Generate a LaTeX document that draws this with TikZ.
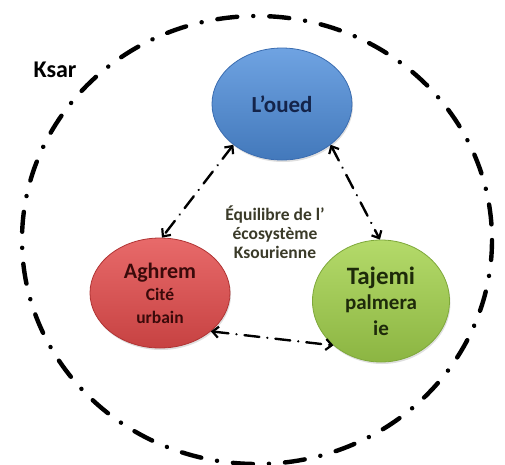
\documentclass[tikz,border=0pt]{standalone}
\usepackage{fontspec}
\setmainfont{Carlito}
\usetikzlibrary{shapes.geometric,arrows.meta,shadows}
\definecolor{bluefill}{HTML}{4A86D0}
\definecolor{bluelight}{HTML}{6FA3E2}
\definecolor{blueedge}{HTML}{3A6CB0}
\definecolor{redfill}{HTML}{D84848}
\definecolor{redlight}{HTML}{E86A6A}
\definecolor{rededge}{HTML}{B03434}
\definecolor{greenfill}{HTML}{98C548}
\definecolor{greenlight}{HTML}{B4DA6A}
\definecolor{greenedge}{HTML}{7EA83A}
\definecolor{bluetext}{HTML}{14244A}
\definecolor{redtext}{HTML}{3A0A0A}
\definecolor{greentext}{HTML}{1E2A0A}
\definecolor{midtext}{HTML}{3A3A28}
\tikzset{
  bubble/.style={ellipse, inner sep=0pt, align=center,
    drop shadow={shadow xshift=1pt, shadow yshift=-2pt, opacity=0.25}},
  link/.style={draw=black, line width=2.4pt,
    dash pattern=on 15pt off 8pt on 0.1pt off 8pt, line cap=round,
    {Straight Barb[length=6pt,width=11pt,line width=2.2pt]}-{Straight Barb[length=6pt,width=11pt,line width=2.2pt]}},
  border/.style={draw=black, line width=4.4pt,
    dash pattern=on 20pt off 16pt on 0.1pt off 16pt, line cap=round}
}
\begin{document}
\begin{tikzpicture}[x=1pt,y=-1pt]
\useasboundingbox (0,0) rectangle (505,464);
\draw[border] (257,240) ellipse [x radius=235, y radius=224];
\node[font=\bfseries\fontsize{24}{26}\selectfont, text=black] (ksar) at (55,70) {Ksar};
\node[bubble, minimum width=140pt, minimum height=112pt,
  top color=bluelight, bottom color=bluefill!90!black, draw=blueedge, line width=0.8pt,
  text=bluetext, font=\bfseries\fontsize{23}{26}\selectfont] (loued) at (282,104) {L’oued};
\node[bubble, minimum width=140pt, minimum height=110pt,
  top color=redlight, bottom color=redfill!92!black, draw=rededge, line width=0.8pt,
  text=redtext, font=\bfseries\fontsize{17.5}{22.5}\selectfont] (aghrem) at (160,293)
  {\fontsize{22}{22.5}\selectfont Aghrem\\Cité\\urbain};
\node[bubble, minimum width=137pt, minimum height=122pt,
  top color=greenlight, bottom color=greenfill!92!black, draw=greenedge, line width=0.8pt,
  text=greentext, font=\bfseries\fontsize{21}{25.5}\selectfont] (tajemi) at (381,301)
  {\fontsize{25}{25.5}\selectfont Tajemi\\palmera\\ie};
\node[align=center, text=midtext, font=\bfseries\fontsize{17.5}{19}\selectfont] (eq) at (275,232)
  {Équilibre de l’\\écosystème\\Ksourienne};
\draw[link] (loued.220) -- (aghrem.88);
\draw[link] (loued.320) -- (tajemi.91);
\draw[link] (aghrem.323) -- (tajemi.223);
\end{tikzpicture}
\end{document}
